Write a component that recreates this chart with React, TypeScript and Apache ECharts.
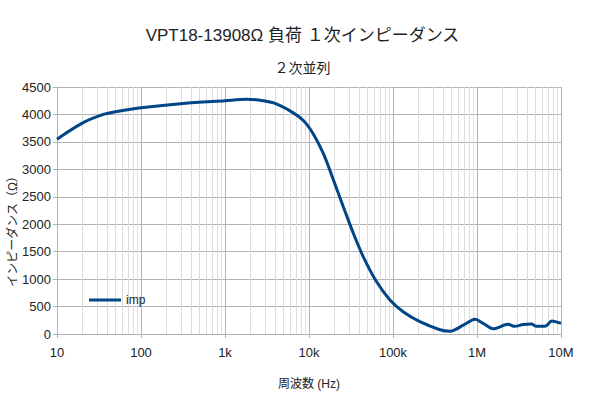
import React, { useEffect, useRef } from "react";
import * as echarts from "echarts";

const freqs = [10, 20.5, 35.6, 50, 100, 316, 1000, 1800, 2500, 3800, 5940, 8550, 11200, 14800, 19500, 25600, 33600, 44200, 63500, 92000, 132000, 209000, 363000, 478000, 687000, 946000, 1190000, 1560000, 2350000, 2820000, 3550000, 4470000, 5100000, 6460000, 7770000, 10000000];
const imp = [3550, 3850, 4000, 4050, 4120, 4200, 4250, 4275, 4265, 4210, 4065, 3890, 3650, 3290, 2810, 2320, 1840, 1410, 955, 620, 405, 224, 77, 50, 160, 270, 192, 96, 178, 140, 173, 180, 140, 140, 236, 192];
const minorFreqs: number[] = [];
for (let d = 10; d < 1e7; d *= 10) {
  for (let k = 2; k <= 9; k++) minorFreqs.push(d * k);
}
const xLabels: Record<string, string> = { "10": "10", "100": "100", "1000": "1k", "10000": "10k", "100000": "100k", "1000000": "1M", "10000000": "10M" };

const FONT = "'Liberation Sans', 'Noto Sans CJK JP', sans-serif";

export default function App() {
  const ref = useRef<HTMLDivElement>(null);
  useEffect(() => {
    if (!ref.current) return;
    const chart = echarts.init(ref.current, undefined, { renderer: "svg" });
    chart.setOption({
      animation: false,
      backgroundColor: "#fff",
      textStyle: { fontFamily: FONT },
      title: [
        { text: "VPT18-13908Ω 負荷 １次インピーダンス", left: "center", top: 22, textStyle: { fontSize: 17, fontWeight: "normal", color: "#222", fontFamily: FONT } },
        { text: "２次並列", left: "center", top: 56, textStyle: { fontSize: 14, fontWeight: "normal", color: "#222", fontFamily: FONT } },
      ],
      legend: {
        left: 84, top: 289, itemWidth: 32, itemHeight: 3, itemGap: 4,
        data: [{ name: "imp", icon: "rect" }],
        textStyle: { fontSize: 12, color: "#222", fontFamily: FONT },
      },
      grid: { left: 57, right: 44, top: 87, bottom: 59, containLabel: false, outerBoundsMode: "none" },
      xAxis: {
        type: "log", logBase: 10, min: 10, max: 1e7,
        name: "周波数 (Hz)", nameLocation: "middle", nameGap: 44, nameMoveOverlap: false,
        nameTextStyle: { fontSize: 12, color: "#222", fontFamily: FONT },
        axisLine: { show: true, lineStyle: { color: "#b3b3b3" } },
        axisTick: { show: true, length: 4, lineStyle: { color: "#b3b3b3" } },
        axisLabel: { fontSize: 13, color: "#222", margin: 12, formatter: (v: number) => xLabels[String(Math.round(v))] ?? "" },
        splitLine: { show: true, lineStyle: { color: "#b3b3b3" } },
      },
      yAxis: {
        type: "value", min: 0, max: 4500, interval: 500,
        name: "インピーダンス（Ω）", nameLocation: "middle", nameGap: 38, nameRotate: 90, nameMoveOverlap: false,
        nameTextStyle: { fontSize: 12, color: "#222", fontFamily: FONT, padding: [0, 36, 0, 0] },
        axisLine: { show: true, lineStyle: { color: "#b3b3b3" } },
        axisTick: { show: true, length: 4, lineStyle: { color: "#b3b3b3" } },
        axisLabel: { fontSize: 13, color: "#222", margin: 6, formatter: (v: number) => String(v) },
        splitLine: { show: true, lineStyle: { color: "#b3b3b3" } },
      },
      series: [
        {
          name: "imp", type: "line", showSymbol: false, smooth: 0.3,
          data: freqs.map((f, i) => [f, imp[i]]),
          lineStyle: { color: "#004586", width: 3 },
          itemStyle: { color: "#004586" },
          z: 5,
          markLine: {
            silent: true, symbol: "none", animation: false,
            label: { show: false },
            lineStyle: { color: "#dddddd", width: 1, type: "solid" },
            data: minorFreqs.map((f) => ({ xAxis: f })),
            z: 1,
          },
        },
      ],
    });
    return () => chart.dispose();
  }, []);
  return <div ref={ref} style={{ width: 605, height: 393, position: "absolute", left: 0, top: 0 }} />;
}
